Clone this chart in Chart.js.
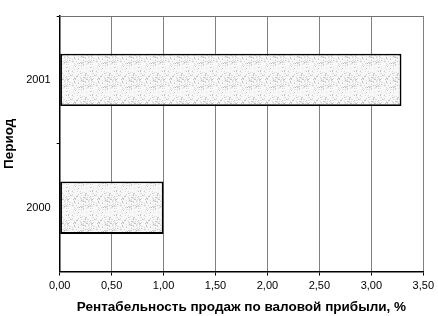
<!DOCTYPE html>
<html>
<head>
<meta charset="utf-8">
<script src="https://cdn.jsdelivr.net/npm/chart.js@4"></script>
<style>
  html, body { margin: 0; padding: 0; background: #fff; }
  #wrap { width: 438px; height: 316px; }
</style>
</head>
<body>
<div id="wrap"><canvas id="rentChart" width="438" height="316"></canvas></div>
<script>
// data
const periods = ['2000', '2001'];
const profitability = [1.00, 3.29]; // %
const xTicks = [0, 0.5, 1, 1.5, 2, 2.5, 3, 3.5];

// grainy grey fill, like the scanned original
function grainPattern() {
    const c = document.createElement('canvas');
    c.width = 24; c.height = 24;
    const g = c.getContext('2d');
    g.fillStyle = '#f7f7f7';
    g.fillRect(0, 0, 24, 24);
    let s = 7;
    for (let i = 0; i < 140; i++) {
        s = (s * 73 + 41) % 997; // fixed stipple, not data
        const px = s % 24, py = Math.floor(s / 24) % 24;
        g.fillStyle = (i % 3 === 0) ? '#c4c4c4' : '#dcdcdc';
        g.fillRect(px, py, 1, 1);
    }
    return g.createPattern(c, 'repeat');
}

// top frame line of the plot area
const frame = {
    id: 'frame',
    afterDraw(chart) {
        const a = chart.chartArea, ctx = chart.ctx;
        ctx.save();
        ctx.strokeStyle = '#707070';
        ctx.lineWidth = 1;
        ctx.beginPath();
        ctx.moveTo(a.left, a.top + 0.5);
        ctx.lineTo(a.right, a.top + 0.5);
        ctx.stroke();
        ctx.restore();
    }
};

const ctx = document.getElementById('rentChart').getContext('2d');
new Chart(ctx, {
    type: 'bar',
    data: {
        labels: periods,
        datasets: [{
            data: profitability,
            backgroundColor: grainPattern(),
            borderColor: '#000',
            borderWidth: 1.8,
            borderSkipped: false,
            barPercentage: 0.41,
            categoryPercentage: 1
        }]
    },
    plugins: [frame],
    options: {
        indexAxis: 'y',
        responsive: false,
        animation: false,
        layout: { padding: { top: 16, right: 12, left: 1, bottom: 1 } },
        plugins: { legend: { display: false }, tooltip: { enabled: false } },
        scales: {
            x: {
                min: 0,
                max: 3.5,
                afterBuildTicks: axis => { axis.ticks = xTicks.map(v => ({ value: v })); },
                ticks: {
                    color: '#000',
                    font: { family: 'Liberation Sans, Arial', size: 11 },
                    maxRotation: 0,
                    padding: 4,
                    callback: v => v.toFixed(2).replace('.', ',')
                },
                grid: { color: '#808080', lineWidth: 1, tickLength: 4, tickColor: '#000' },
                border: { color: '#000', width: 1.5 },
                title: {
                    display: true,
                    text: 'Рентабельность продаж по валовой прибыли, %',
                    color: '#000',
                    font: { family: 'Liberation Sans, Arial', size: 13.5, weight: 'bold' },
                    padding: { top: 2, bottom: 0 }
                }
            },
            y: {
                reverse: true,
                ticks: {
                    color: '#000',
                    font: { family: 'Liberation Sans, Arial', size: 11 },
                    padding: 6
                },
                grid: {
                    drawOnChartArea: false,
                    tickLength: 3,
                    // no tick mark at the very top of the axis
                    tickColor: c => (c.index === 0 ? 'rgba(0,0,0,0)' : '#000')
                },
                border: { color: '#000', width: 1.5 },
                title: {
                    display: true,
                    text: 'Период',
                    color: '#000',
                    font: { family: 'Liberation Sans, Arial', size: 13.5, weight: 'bold' },
                    padding: { top: 0, bottom: 3 }
                }
            }
        }
    }
});
</script>
</body>
</html>
